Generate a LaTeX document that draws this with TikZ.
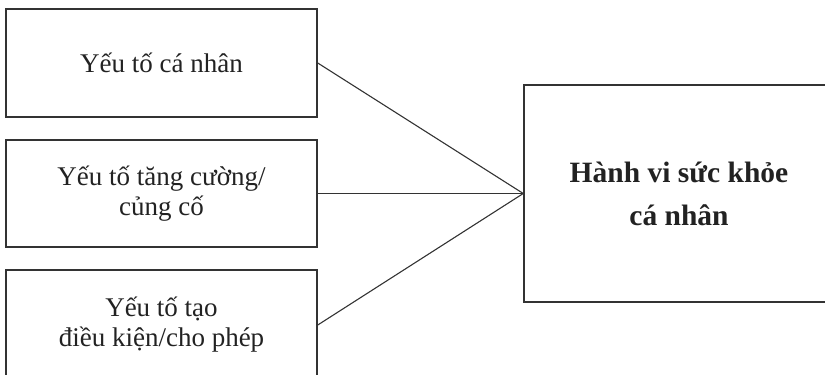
\documentclass[tikz,border=0pt]{standalone}
\usepackage{fontspec}
\setmainfont{Liberation Serif}
\definecolor{ink}{HTML}{222222}
\definecolor{edge}{HTML}{333333}
\begin{document}
\begin{tikzpicture}[x=1pt,y=-1pt,
  box/.style={draw=edge,line width=1.5pt,text=ink,align=center,inner sep=0pt,
    font=\fontsize{27}{30}\selectfont},
  mainbox/.style={box,font=\bfseries\fontsize{29.5}{43}\selectfont},
  link/.style={draw=edge,line width=1.1pt}]
\useasboundingbox (0,0) rectangle (825,375);
\clip (0,0) rectangle (825,375);
\node[box,minimum width=311pt,minimum height=108pt] (b1) at (161.5,63) {Yếu tố cá nhân};
\node[box,minimum width=311pt,minimum height=107pt] (b2) at (161.5,193.5) {Yếu tố tăng cường/\\củng cố};
\node[box,minimum width=311pt,minimum height=110pt] (b3) at (161.5,325) {Yếu tố tạo\\điều kiện/cho phép};
\node[mainbox,minimum width=310pt,minimum height=217pt] (m) at (679,193.5) {Hành vi sức khỏe\\cá nhân};
\draw[link] (b1.east) -- (m.west);
\draw[link] (b2.east) -- (m.west);
\draw[link] (b3.east) -- (m.west);
\end{tikzpicture}
\end{document}
